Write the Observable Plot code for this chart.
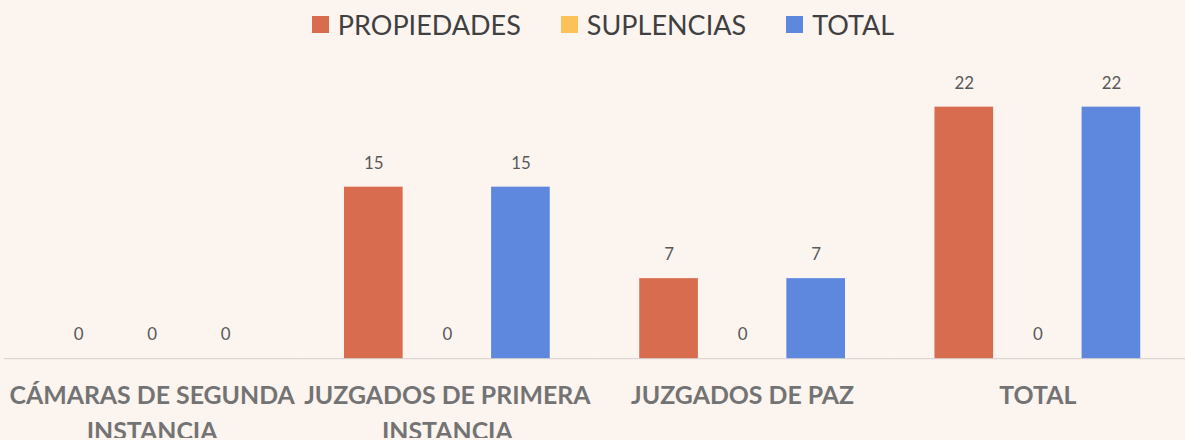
<!DOCTYPE html>
<html>
<head>
<meta charset="utf-8">
<script src="https://cdn.jsdelivr.net/npm/d3@7"></script>
<script src="https://cdn.jsdelivr.net/npm/@observablehq/plot@0.6"></script>
<style>
  html, body { margin: 0; padding: 0; background: #fcf4ef; }
  body { width: 1185px; height: 440px; overflow: hidden; font-family: Lato, "Open Sans", sans-serif; }
  #legend { height: 48px; display: flex; justify-content: center; align-items: center; gap: 40px; padding-left: 21px; box-sizing: border-box; }
  .item { display: flex; align-items: center; font-size: 27px; color: #404040; }
  .sw { width: 17px; height: 17px; margin-right: 9px; }
  #chart { width: 1185px; overflow: hidden; line-height: 0; }
</style>
</head>
<body>
<div id="legend"></div>
<div id="chart"></div>
<script>
const categories = ["CÁMARAS DE SEGUNDA INSTANCIA", "JUZGADOS DE PRIMERA INSTANCIA", "JUZGADOS DE PAZ", "TOTAL"];
const categoryLabels = ["CÁMARAS DE SEGUNDA\nINSTANCIA", "JUZGADOS DE PRIMERA\nINSTANCIA", "JUZGADOS DE PAZ", "TOTAL"];
const series = ["PROPIEDADES", "SUPLENCIAS", "TOTAL"];
const colors = ["#d76c4f", "#fcc25a", "#5d88dd"];
const propiedades = [0, 15, 7, 22];
const suplencias = [0, 0, 0, 0];
const totales = [0, 15, 7, 22];

const values = [propiedades, suplencias, totales];
const data = [];
categories.forEach((c, i) => series.forEach((s, j) => data.push({category: c, series: s, value: values[j][i]})));

const legend = document.getElementById("legend");
series.forEach((s, j) => {
  const it = document.createElement("div");
  it.className = "item";
  it.innerHTML = `<span class="sw" style="background:${colors[j]}"></span>${s}`;
  legend.appendChild(it);
});

const chart = Plot.plot({
  width: 1192,
  height: 392,
  marginLeft: 4,
  marginRight: 0,
  marginTop: 59,
  marginBottom: 80,
  style: {background: "transparent", fontFamily: "Lato, 'Open Sans', sans-serif", overflow: "visible"},
  fx: {domain: categories, padding: 0, label: null},
  x: {domain: series, paddingInner: 0.2, paddingOuter: 0.6, axis: null},
  y: {domain: [0, 22], axis: null},
  color: {domain: series, range: colors},
  marks: [
    Plot.ruleY([0], {stroke: "#d9d6d4", strokeWidth: 1.2}),
    Plot.barY(data, {fx: "category", x: "series", y: "value", fill: "series"}),
    Plot.text(data, {fx: "category", x: "series", y: "value", text: d => String(d.value), dy: -24, fontSize: 17, fill: "#595959"}),
    Plot.axisFx({
      anchor: "bottom",
      tickSize: 0,
      tickPadding: 19,
      tickFormat: d => categoryLabels[categories.indexOf(d)],
      fontSize: 25,
      fontWeight: "bold",
      color: "#737373",
      lineHeight: 1.48,
      label: null
    })
  ]
});
document.getElementById("chart").appendChild(chart);
</script>
</body>
</html>
